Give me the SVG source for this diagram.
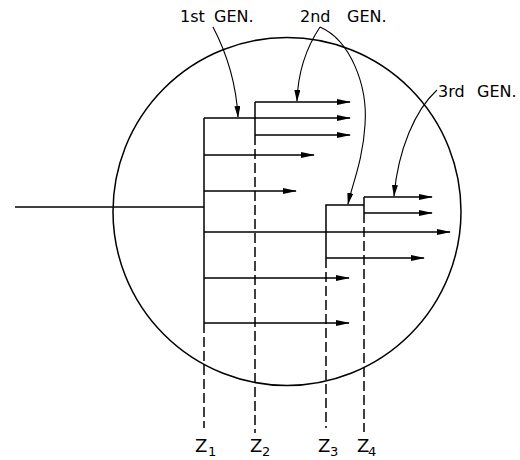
<svg xmlns="http://www.w3.org/2000/svg" width="520" height="460" viewBox="0 0 520 460">
  <style>
    .ln { fill: none; stroke: #000; stroke-width: 1.5; }
    .arr { fill: none; stroke: #000; stroke-width: 1.5; marker-end: url(#head); }
    .call { fill: none; stroke: #000; stroke-width: 1.1; marker-end: url(#callhead); }
    .dash { fill: none; stroke: #000; stroke-width: 1.5; stroke-dasharray: 10 4; }
    .lbl { font-family: "DejaVu Sans", "Liberation Sans", sans-serif; font-size: 16px; fill: #000; }
    .z { font-family: "DejaVu Sans", "Liberation Sans", sans-serif; font-size: 18px; fill: #000; }
    .sub { font-size: 13px; }
  </style>
  <defs>
    <marker id="head" markerUnits="userSpaceOnUse" markerWidth="14" markerHeight="8" refX="13" refY="3" orient="auto">
      <path d="M0,0 L14,3 L0,6 z" fill="#000"/>
    </marker>
    <marker id="callhead" markerUnits="userSpaceOnUse" markerWidth="12" markerHeight="8" refX="11" refY="3" orient="auto">
      <path d="M0,0 L12,3 L0,6 z" fill="#000"/>
    </marker>
  </defs>

  <rect width="520" height="460" fill="#fff"/>

  <!-- vessel outline -->
  <g id="vessel">
    <circle cx="287" cy="211.5" r="174" class="ln"/>
  </g>

  <!-- generation trees and guide lines -->
  <g id="connectors">
    <!-- incoming beam -->
    <path class="ln" d="M15,207 H204"/>
    <!-- 1st generation trunk -->
    <path class="ln" d="M204,118 V323"/>
    <path class="arr" d="M204,118 H350"/>
    <path class="arr" d="M204,155 H314"/>
    <path class="arr" d="M204,191 H296"/>
    <path class="arr" d="M204,232 H450"/>
    <path class="arr" d="M204,278 H349"/>
    <path class="arr" d="M204,323 H349"/>
    <!-- 2nd generation at Z2 -->
    <path class="ln" d="M255,102 V135"/>
    <path class="arr" d="M255,102 H350"/>
    <path class="arr" d="M255,135 H350"/>
    <!-- 2nd generation at Z3 -->
    <path class="ln" d="M326,258 V205 H364"/>
    <path class="arr" d="M326,258 H424"/>
    <!-- 3rd generation at Z4 -->
    <path class="ln" d="M364,197 V213"/>
    <path class="arr" d="M364,197 H432"/>
    <path class="arr" d="M364,213 H432"/>
    <!-- position guides -->
    <path class="dash" d="M204,323 V428"/>
    <path class="dash" d="M255,135 V433"/>
    <path class="dash" d="M326,258 V428"/>
    <path class="dash" d="M364,213 V432"/>
    <!-- callout leaders -->
    <path class="call" d="M213,27 C225,50 236,80 238,117"/>
    <path class="call" d="M320,27 C308,45 298,70 297,101"/>
    <path class="call" d="M320,27 C350,40 368,85 365,125 C363,160 352,185 348,204"/>
    <path class="call" d="M437,90 C415,110 398,150 394,196"/>
  </g>

  <g id="label-gen1">
    <text class="lbl" y="22"><tspan x="180">1st</tspan><tspan x="214">GEN.</tspan></text>
  </g>
  <g id="label-gen2">
    <text class="lbl" y="22"><tspan x="300">2nd</tspan><tspan x="347">GEN.</tspan></text>
  </g>
  <g id="label-gen3">
    <text class="lbl" y="97"><tspan x="438">3rd</tspan><tspan x="477">GEN.</tspan></text>
  </g>

  <g id="label-z1"><text class="z" x="195" y="452">Z<tspan class="sub" x="208" y="456">1</tspan></text></g>
  <g id="label-z2"><text class="z" x="250" y="452">Z<tspan class="sub" x="262" y="456">2</tspan></text></g>
  <g id="label-z3"><text class="z" x="318" y="452">Z<tspan class="sub" x="330" y="456">3</tspan></text></g>
  <g id="label-z4"><text class="z" x="357" y="452">Z<tspan class="sub" x="368" y="456">4</tspan></text></g>
</svg>
